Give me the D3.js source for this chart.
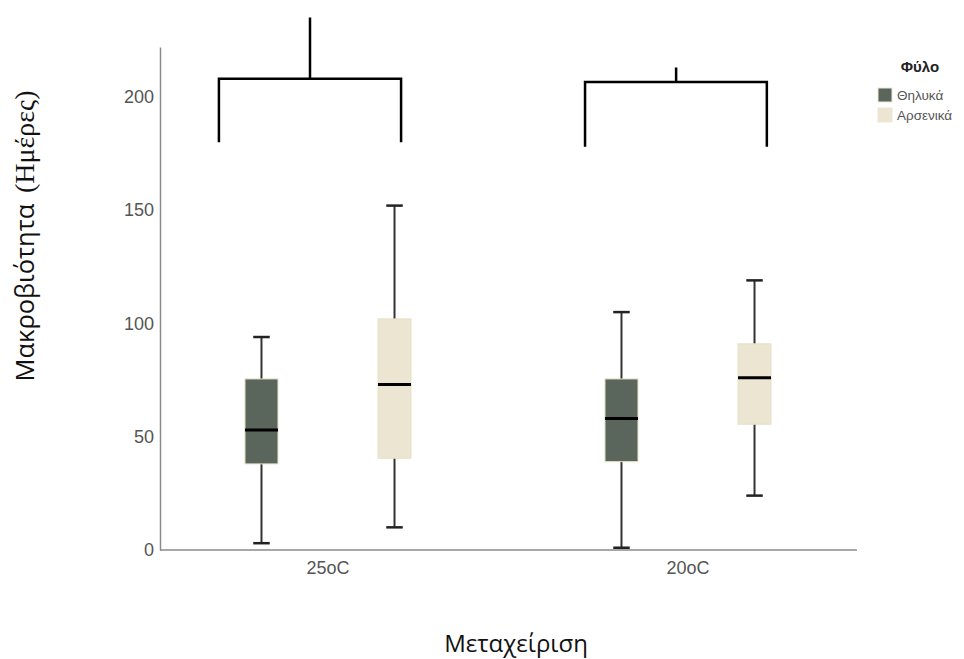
<!DOCTYPE html>
<html>
<head>
<meta charset="utf-8">
<script src="https://cdn.jsdelivr.net/npm/d3@7"></script>
<style>
  body { margin: 0; background: #fff; }
  svg { display: block; }
  .tick text { font-family: "Liberation Sans", Arial, sans-serif; font-size: 18px; fill: #555; }
</style>
</head>
<body>
<svg id="chart"></svg>
<script>
const categories = ['25oC', '20oC'];
const sexes = ['Θηλυκά', 'Αρσενικά'];
const yTicks = [0, 50, 100, 150, 200];

// one entry per box: category, sex and the five numbers
const boxCategory = ['25oC', '25oC', '20oC', '20oC'];
const boxSex = ['Θηλυκά', 'Αρσενικά', 'Θηλυκά', 'Αρσενικά'];
const whiskerLow = [3, 10, 1, 24];
const quartile1 = [38, 40.5, 39, 55.5];
const medians = [53, 73, 58, 76];
const quartile3 = [75.5, 102, 75.5, 91];
const whiskerHigh = [94, 152, 105, 119];

// bracket annotations over each category (y in days)
const bracketCategory = ['25oC', '20oC'];
const bracketBase = [180, 178];
const bracketTop = [208, 206.5];
const bracketStem = [235, 213];

const width = 964;
const height = 659;
const colors = {'Θηλυκά': '#5a655c', 'Αρσενικά': '#ebe5d1'};
// bracket ends as fractions of the category band
const bracketShape = {left: [0.197, 0.214], right: [0.703, 0.719], mid: [0.45, 0.467]};

const svg = d3.select('#chart')
    .attr('width', width)
    .attr('height', height);

const plot = {left: 160, right: 857, top: 47, bottom: 550};

const y = d3.scaleLinear()
    .domain([0, 222])
    .range([plot.bottom, plot.top]);

const x0 = d3.scaleBand()
    .domain(categories)
    .range([148, 868]);

const x1 = d3.scaleBand()
    .domain(sexes)
    .range([0, x0.bandwidth()])
    .paddingInner(0.752)
    .paddingOuter(0.729);

const boxes = boxCategory.map((c, i) => ({
    category: c, sex: boxSex[i],
    low: whiskerLow[i], q1: quartile1[i], med: medians[i], q3: quartile3[i], high: whiskerHigh[i]
}));

// axes
const yAxis = svg.append('g')
    .attr('transform', `translate(${plot.left},0)`)
    .call(d3.axisLeft(y).tickValues(yTicks).tickSize(0).tickPadding(6).tickSizeOuter(0));
yAxis.select('.domain').attr('stroke', '#8a8a8a').attr('stroke-width', 1.5);

const xAxis = svg.append('g')
    .attr('transform', `translate(0,${plot.bottom})`)
    .call(d3.axisBottom(x0).tickSize(0).tickPadding(11));
xAxis.select('.domain').remove();
svg.append('line')
    .attr('x1', plot.left).attr('x2', plot.right)
    .attr('y1', plot.bottom).attr('y2', plot.bottom)
    .attr('stroke', '#8a8a8a').attr('stroke-width', 1.5);

// boxes
const bw = x1.bandwidth();
const g = svg.append('g');
const box = g.selectAll('.box').data(boxes).enter().append('g')
    .attr('class', 'box')
    .attr('transform', d => `translate(${x0(d.category) + x1(d.sex)},0)`);

box.append('line')
    .attr('x1', bw / 2).attr('x2', bw / 2)
    .attr('y1', d => y(d.low)).attr('y2', d => y(d.high))
    .attr('stroke', '#333').attr('stroke-width', 2);

box.selectAll('.cap').data(d => [d.low, d.high]).enter().append('line')
    .attr('class', 'cap')
    .attr('x1', bw / 4).attr('x2', bw * 3 / 4)
    .attr('y1', v => y(v)).attr('y2', v => y(v))
    .attr('stroke', '#222').attr('stroke-width', 2.5);

box.append('rect')
    .attr('x', 0).attr('width', bw)
    .attr('y', d => y(d.q3))
    .attr('height', d => y(d.q1) - y(d.q3))
    .attr('fill', d => colors[d.sex])
    .attr('stroke', '#e6e0c8').attr('stroke-width', 1);

box.append('line')
    .attr('x1', 0).attr('x2', bw)
    .attr('y1', d => y(d.med)).attr('y2', d => y(d.med))
    .attr('stroke', '#000').attr('stroke-width', 3);

// brackets
bracketCategory.forEach((c, i) => {
    const bw0 = x0.bandwidth();
    const xl = x0(c) + bracketShape.left[i] * bw0;
    const xr = x0(c) + bracketShape.right[i] * bw0;
    const xm = x0(c) + bracketShape.mid[i] * bw0;
    const path = d3.path();
    path.moveTo(xl, y(bracketBase[i]));
    path.lineTo(xl, y(bracketTop[i]));
    path.lineTo(xr, y(bracketTop[i]));
    path.lineTo(xr, y(bracketBase[i]));
    path.moveTo(xm, y(bracketTop[i]));
    path.lineTo(xm, y(bracketStem[i]));
    svg.append('path')
        .attr('d', path.toString())
        .attr('fill', 'none')
        .attr('stroke', '#000')
        .attr('stroke-width', 2.5);
});

// axis titles
const yTitle = svg.append('text')
    .attr('transform', `translate(34,236) rotate(-90)`)
    .attr('text-anchor', 'middle')
    .attr('fill', '#111');
yTitle.append('tspan')
    .style('font-family', '"Open Sans", sans-serif')
    .style('font-size', '25.5px')
    .text('Μακροβιότητα  ');
yTitle.append('tspan')
    .attr('dx', 4)
    .style('font-family', '"Liberation Serif", "Times New Roman", serif')
    .style('font-size', '28px')
    .text('(Ημέρες)');

svg.append('text')
    .attr('x', 516).attr('y', 652)
    .attr('text-anchor', 'middle')
    .style('font-family', '"Open Sans", sans-serif')
    .style('font-size', '24px')
    .attr('fill', '#111')
    .text('Μεταχείριση');

// legend
const legend = svg.append('g').attr('transform', 'translate(878,0)');
legend.append('text')
    .attr('x', 42).attr('y', 72)
    .attr('text-anchor', 'middle')
    .style('font-family', '"Liberation Sans", Arial, sans-serif')
    .style('font-size', '15px')
    .style('font-weight', 'bold')
    .attr('fill', '#222')
    .text('Φύλο');
const item = legend.selectAll('.item').data(sexes).enter().append('g')
    .attr('transform', (d, i) => `translate(0,${88 + i * 20})`);
item.append('rect')
    .attr('width', 14).attr('height', 14)
    .attr('fill', d => colors[d])
    .attr('stroke', '#ece8d8').attr('stroke-width', 1);
item.append('text')
    .attr('x', 19).attr('y', 12)
    .style('font-family', '"Liberation Sans", Arial, sans-serif')
    .style('font-size', '13.5px')
    .attr('fill', '#555')
    .text(d => d);
</script>
</body>
</html>
